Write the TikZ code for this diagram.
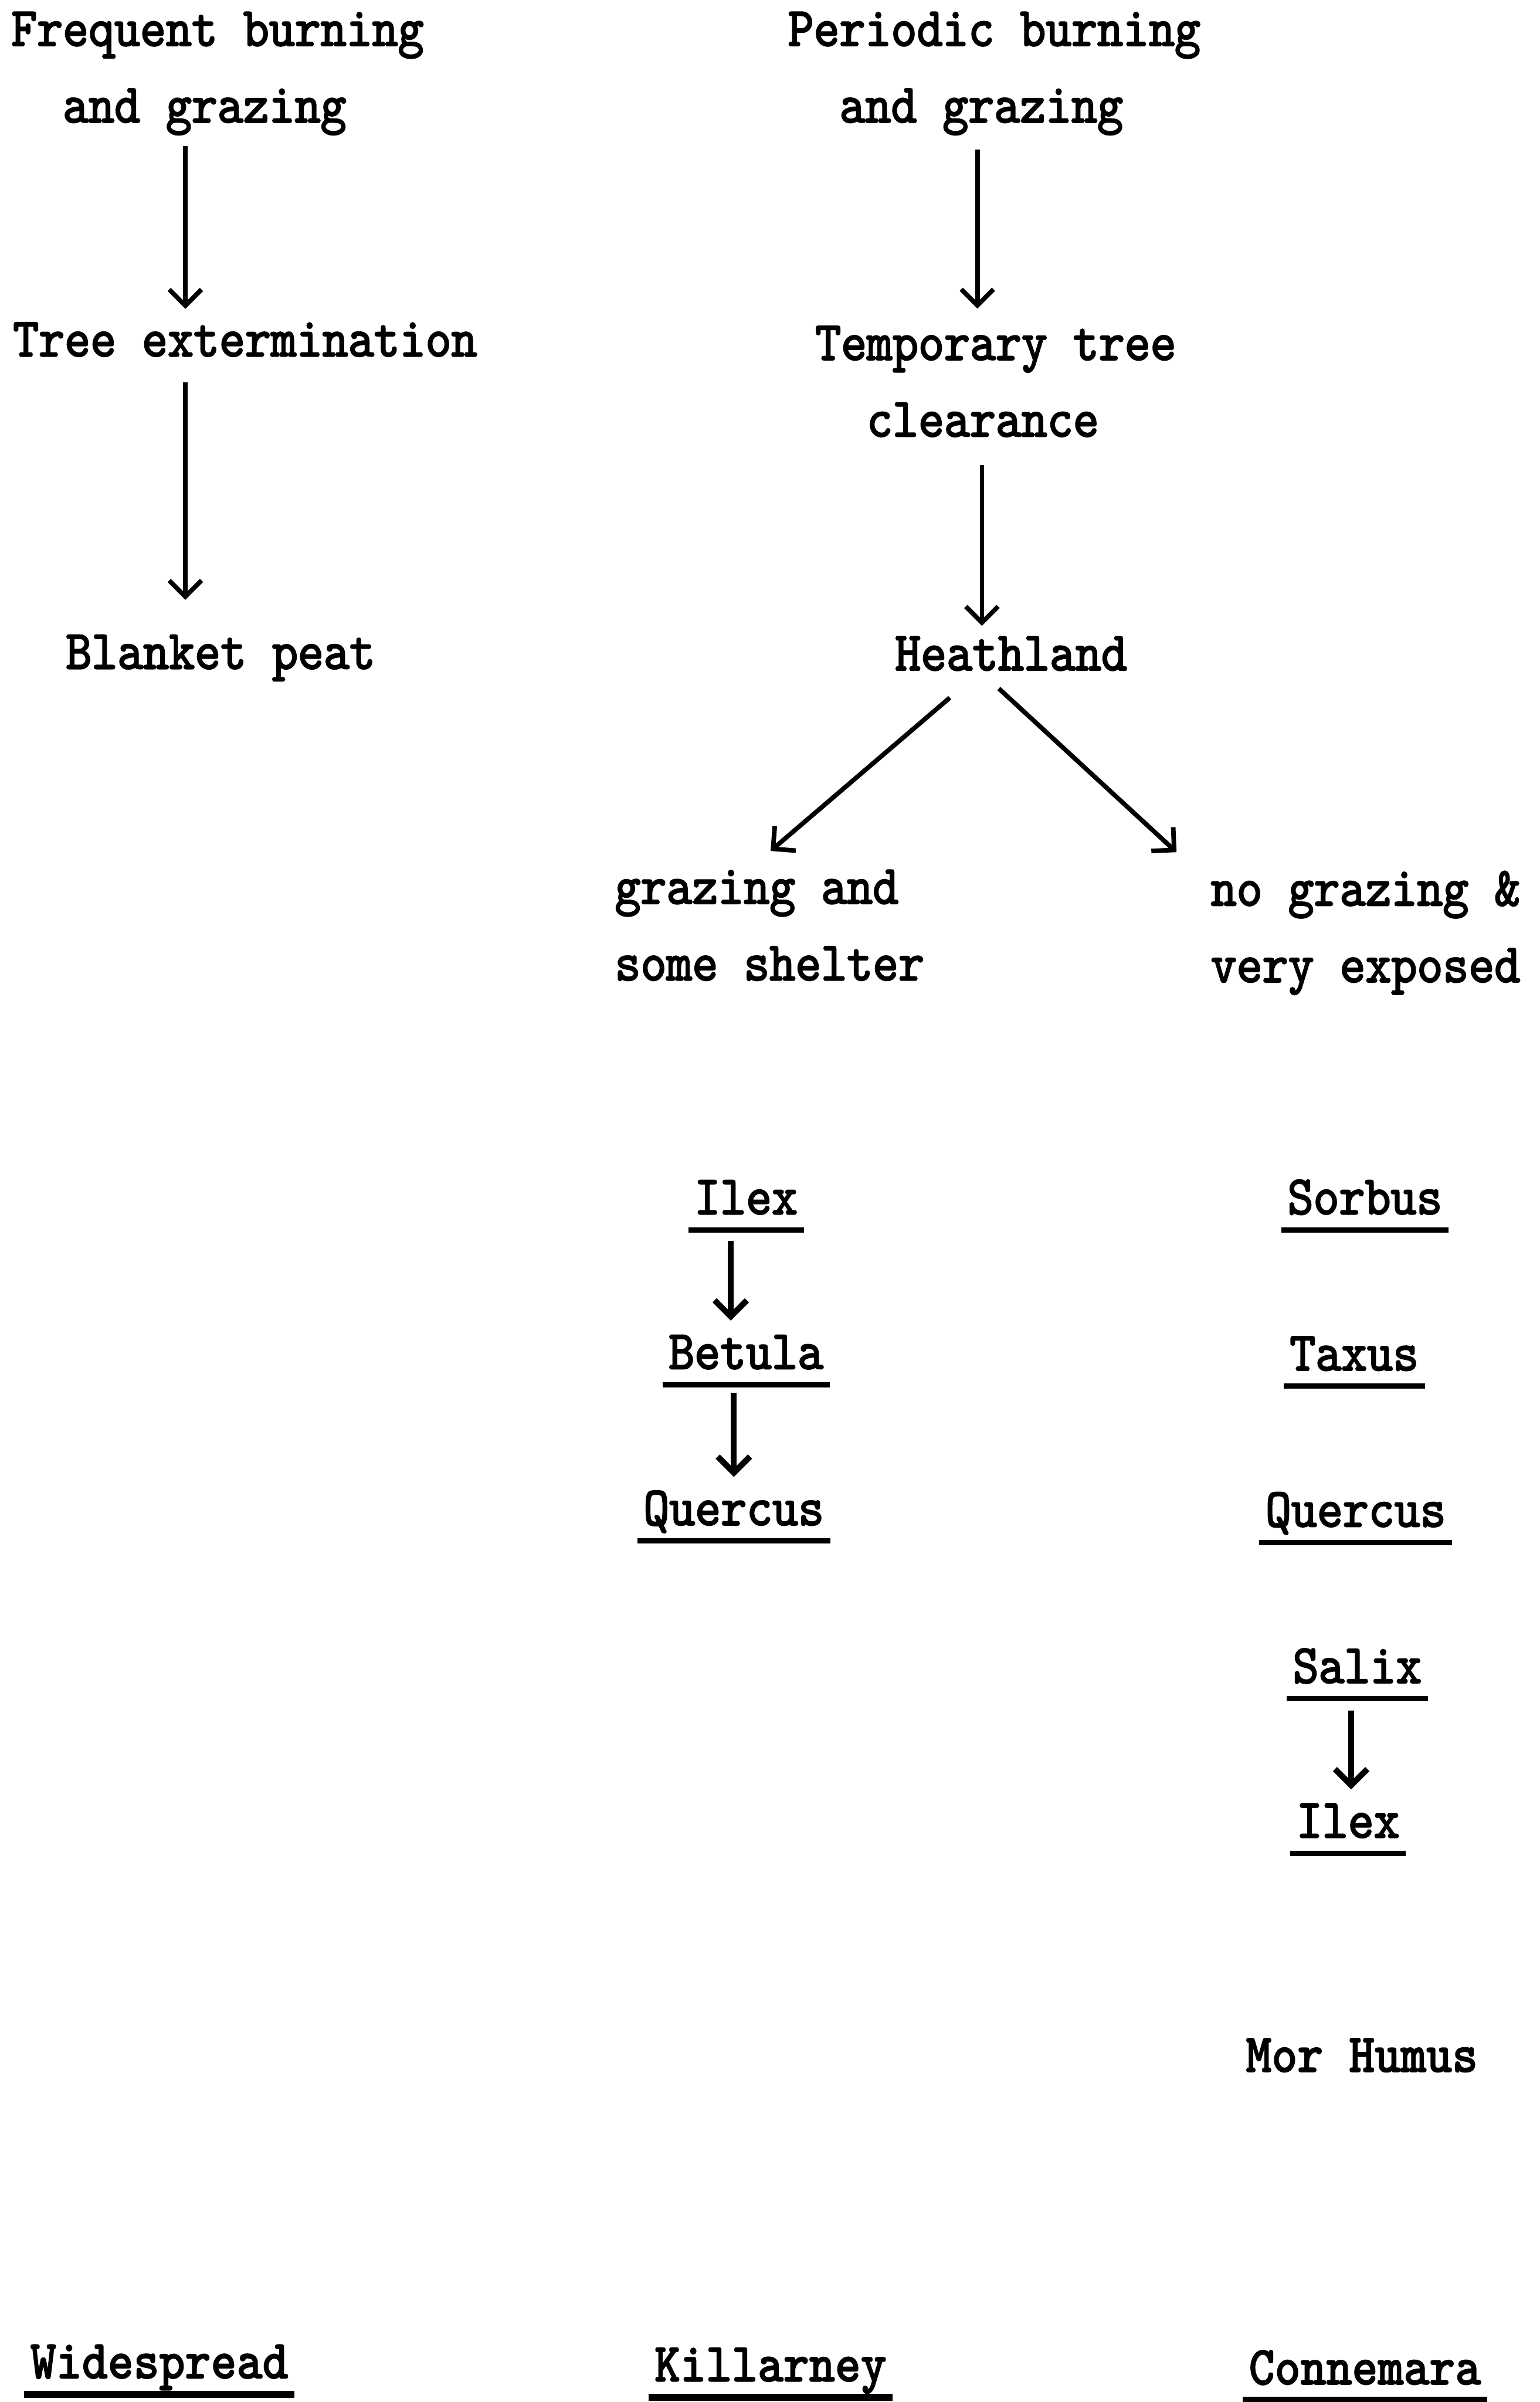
\documentclass[tikz,border=0pt]{standalone}
\usepackage{fontspec}
\usetikzlibrary{arrows.meta}
\newfontfamily\twfont[Extension=.otf, FakeStretch=0.89, FakeBold=2.5]{lmmono10-regular}
\newfontfamily\twbold[Extension=.otf, FakeStretch=0.89, FakeBold=1.5]{lmmonolt10-bold}
\newcommand{\indenttw}{\hphantom{xx}}
\tikzset{
  every picture/.style={line width=1.6pt},
  txt/.style={font=\twfont\fontsize{20.5}{28.45}\selectfont, inner sep=0pt},
  oneline/.style={txt, text height=14pt, text depth=2pt},
  heavy/.style={font=\twbold\fontsize{20.5}{28.45}\selectfont},
  uline/.style={append after command={(\tikzlastnode.south west) edge[line width=#1] (\tikzlastnode.south east)}},
  taxon/.style={oneline, inner xsep=1.5pt, minimum height=0.78cm, uline=#1},
  taxon/.default=2pt,
  place/.style={taxon=2.6pt, heavy},
  arrow/.style={-{Straight Barb[length=6pt, width=12pt]}, line width=1.7pt},
}
\begin{document}
\begin{tikzpicture}[x=0.02cm, y=-0.02cm]
  \useasboundingbox (0,0) rectangle (1005,1568);
  % widespread
  \node[txt, align=left] (fburn) at (142,48) {Frequent burning\\\indenttw and grazing};
  \node[oneline] (treex) at (160,222) {Tree extermination};
  \node[oneline] (blanket) at (144,426) {Blanket peat};
  \draw[arrow, shorten <=3.4pt, shorten >=2.8pt] (fburn.south -| 121,0) -- (treex.north -| 121,0);
  \draw[arrow, shorten <=6.8pt, shorten >=10.8pt] (treex.south -| 121,0) -- (blanket.north -| 121,0);
  % periodic
  \node[txt, align=left] (pburn) at (649,48) {Periodic burning\\\indenttw and grazing};
  \node[txt, align=left] (tclear) at (650,249) {Temporary tree\\\indenttw clearance};
  \node[oneline] (heath) at (660,427) {Heathland};
  \draw[arrow, shorten <=4.6pt, shorten >=5.7pt] (pburn.south -| 638,0) -- (tclear.north -| 638,0);
  \draw[arrow, shorten <=9.7pt, shorten >=1.7pt] (tclear.south -| 641,0) -- (heath.north -| 641,0);
  \node[txt, align=left, anchor=west] (shelter) at (400,604) {grazing and\\some shelter};
  \node[txt, align=left, anchor=west] (exposed) at (789,609) {no grazing \&\\very exposed};
  \draw[arrow] ([shift={(-40,13)}]heath.south) -- ([shift={(103,-11)}]shelter.north west);
  \draw[arrow] ([shift={(-8,7)}]heath.south) -- ([shift={(-21,-11)}]exposed.north west);
  % killarney
  \node[taxon] (ilexk) at (487,782) {Ilex};
  \node[taxon] (betula) at (487,883) {Betula};
  \node[taxon] (querk) at (479,985) {Quercus};
  \draw[arrow, line width=2.2pt, shorten <=4pt] (ilexk.south -| 477,0) -- (betula.north -| 477,0);
  \draw[arrow, line width=2.2pt, shorten <=3pt] (betula.south -| 479,0) -- (querk.north -| 479,0);
  % connemara
  \node[taxon] (sorbus) at (891,782) {Sorbus};
  \node[taxon] (taxus) at (884,884) {Taxus};
  \node[taxon] (querc) at (885,986) {Quercus};
  \node[taxon] (salix) at (886,1088) {Salix};
  \node[taxon] (ilexc) at (880,1189) {Ilex};
  \draw[arrow, line width=2.2pt, shorten <=4.5pt] (salix.south -| 882,0) -- (ilexc.north -| 882,0);
  \node[oneline, heavy] (morhumus) at (889,1342) {Mor Humus};
  % regions
  \node[place] (wide) at (104,1542) {Widespread};
  \node[place] (killarney) at (503,1544) {Killarney};
  \node[place] (connemara) at (891,1546) {Connemara};
\end{tikzpicture}
\end{document}
